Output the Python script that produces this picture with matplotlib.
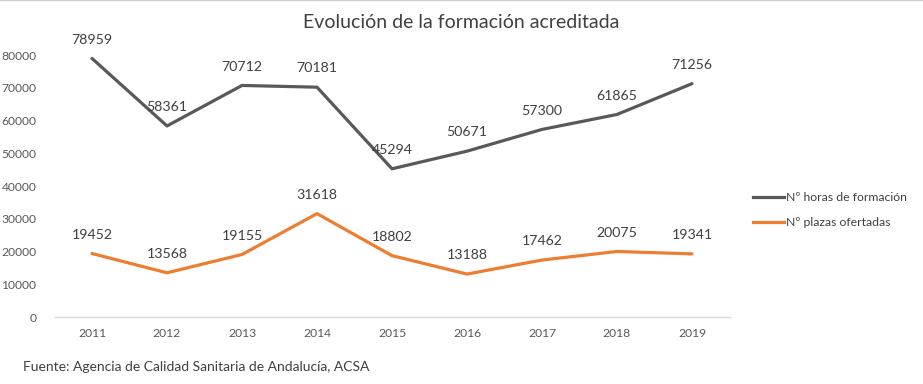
import matplotlib.pyplot as plt
from matplotlib.lines import Line2D

# data
years = ["2011", "2012", "2013", "2014", "2015", "2016", "2017", "2018", "2019"]
horas = [78959, 58361, 70712, 70181, 45294, 50671, 57300, 61865, 71256]
plazas = [19452, 13568, 19155, 31618, 18802, 13188, 17462, 20075, 19341]
yticks = [0, 10000, 20000, 30000, 40000, 50000, 60000, 70000, 80000]

GRAY = "#595959"
ORANGE = "#ED7D31"
TXT = "#404040"

plt.rcParams["font.family"] = ["Lato", "DejaVu Sans"]

fig = plt.figure(figsize=(9.23, 3.84), dpi=100)
ax = fig.add_axes([54.5 / 923, 1 - 317.3 / 384, 675 / 923, 262.3 / 384])

x = list(range(len(years)))
ax.plot(x, horas, color=GRAY, lw=2.3, solid_capstyle="round", label="Nº horas de formación")
ax.plot(x, plazas, color=ORANGE, lw=2.3, solid_capstyle="round", label="Nº plazas ofertadas")

# data labels, centered above each point
for xi, v in zip(x, horas):
    ax.annotate(str(v), (xi, v), xytext=(0, 13.5), textcoords="offset points",
                ha="center", va="center", fontsize=10.2, color=TXT)
for xi, v in zip(x, plazas):
    ax.annotate(str(v), (xi, v), xytext=(0, 13.5), textcoords="offset points",
                ha="center", va="center", fontsize=10.2, color=TXT)

ax.set_xlim(-0.5, len(years) - 0.5)
ax.set_ylim(0, 80000)
ax.set_xticks(x)
ax.set_xticklabels(years)
ax.set_yticks(yticks)
ax.set_yticklabels([str(t) for t in yticks])
ax.tick_params(axis="both", length=0, labelsize=8.7, colors=GRAY)
ax.tick_params(axis="x", pad=8)
ax.tick_params(axis="y", pad=13)
for s in ["top", "right", "left"]:
    ax.spines[s].set_visible(False)
ax.spines["bottom"].set_color("#D9D9D9")
ax.spines["bottom"].set_linewidth(1)

fig.text(0.5, 1 - 22 / 384, "Evolución de la formación acreditada",
         ha="center", va="center", fontsize=14, color=TXT)

handles = [Line2D([], [], color=GRAY, lw=2.3), Line2D([], [], color=ORANGE, lw=2.3)]
fig.legend(handles, ["Nº horas de formación", "Nº plazas ofertadas"],
           loc="center left", bbox_to_anchor=(742 / 923, 1 - 210 / 384),
           frameon=False, fontsize=8.8, handlelength=2.5, handletextpad=0.2,
           labelspacing=1.15, labelcolor=TXT)

fig.text(23 / 923, 1 - 367 / 384, "Fuente: Agencia de Calidad Sanitaria de Andalucía, ACSA",
         ha="left", va="center", fontsize=10, color=TXT)

# thin border line at the top of the picture
fig.add_artist(Line2D([0, 1], [0.999, 0.999], transform=fig.transFigure, color="#D0D0D0", lw=1))

fig.savefig("out.png", dpi=100)
